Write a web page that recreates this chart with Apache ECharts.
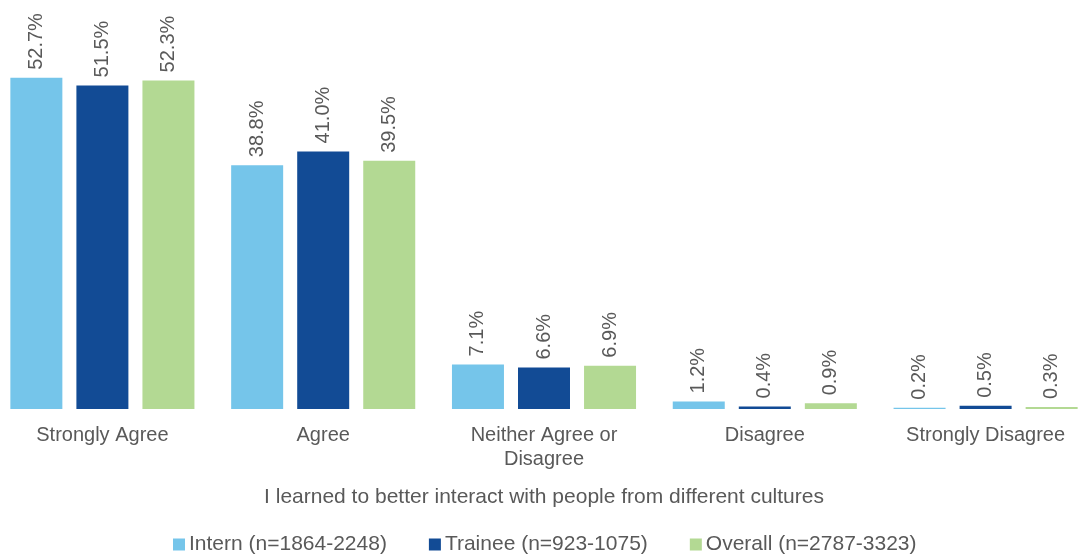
<!DOCTYPE html>
<html>
<head>
<meta charset="utf-8">
<script src="https://cdn.jsdelivr.net/npm/echarts@6/dist/echarts.min.js"></script>
<style>html,body{margin:0;padding:0;background:#fff;overflow:hidden}#c{width:1104px;height:559px;margin-left:-8px}</style>
</head>
<body>
<div id="c"></div>
<script>
const categories = ['Strongly Agree', 'Agree', 'Neither Agree or\nDisagree', 'Disagree', 'Strongly Disagree'];
const seriesNames = ['Intern (n=1864-2248)', 'Trainee (n=923-1075)', 'Overall (n=2787-3323)'];
const internValues = [52.7, 38.8, 7.1, 1.2, 0.2];
const traineeValues = [51.5, 41.0, 6.6, 0.4, 0.5];
const overallValues = [52.3, 39.5, 6.9, 0.9, 0.3];
const axisTitle = 'I learned to better interact with people from different cultures';
const colors = ['#75C5EA', '#124B95', '#B3D993'];

const FONT = 'Liberation Sans, Arial, sans-serif';
const chart = echarts.init(document.getElementById('c'), null, {renderer: 'canvas'});
const labelCfg = {
  show: true,
  position: 'top',
  rotate: 90,
  align: 'left',
  verticalAlign: 'middle',
  distance: 8,
  color: '#595959',
  fontSize: 20,
  fontFamily: FONT,
  formatter: p => p.value.toFixed(1) + '%'
};
function mk(name, data, color) {
  return {
    name, type: 'bar', data,
    barWidth: 52,
    barGap: '27%',
    itemStyle: {color},
    label: labelCfg
  };
}
chart.setOption({
  animation: false,
  color: colors,
  grid: {left: 0, right: 0, top: 32, bottom: 150, containLabel: false},
  legend: {
    top: 534,
    left: 181,
    padding: 0,
    itemWidth: 12,
    itemHeight: 12,
    itemGap: 42,
    icon: 'rect',
    textStyle: {color: '#595959', fontSize: 21, fontFamily: FONT, padding: [0, 0, 0, -1]},
    data: seriesNames
  },
  xAxis: {
    type: 'category',
    data: categories,
    axisLine: {show: false},
    axisTick: {show: false},
    axisLabel: {
      color: '#595959', fontSize: 20, margin: 14, lineHeight: 24,
      fontFamily: FONT, interval: 0
    },
    name: axisTitle,
    nameLocation: 'middle',
    nameGap: 78,
    nameTextStyle: {color: '#595959', fontSize: 21, fontFamily: FONT}
  },
  yAxis: {
    type: 'value', min: 0, max: 60,
    show: false,
    splitLine: {show: false}
  },
  series: [
    mk(seriesNames[0], internValues, colors[0]),
    mk(seriesNames[1], traineeValues, colors[1]),
    mk(seriesNames[2], overallValues, colors[2])
  ]
});
</script>
</body>
</html>
